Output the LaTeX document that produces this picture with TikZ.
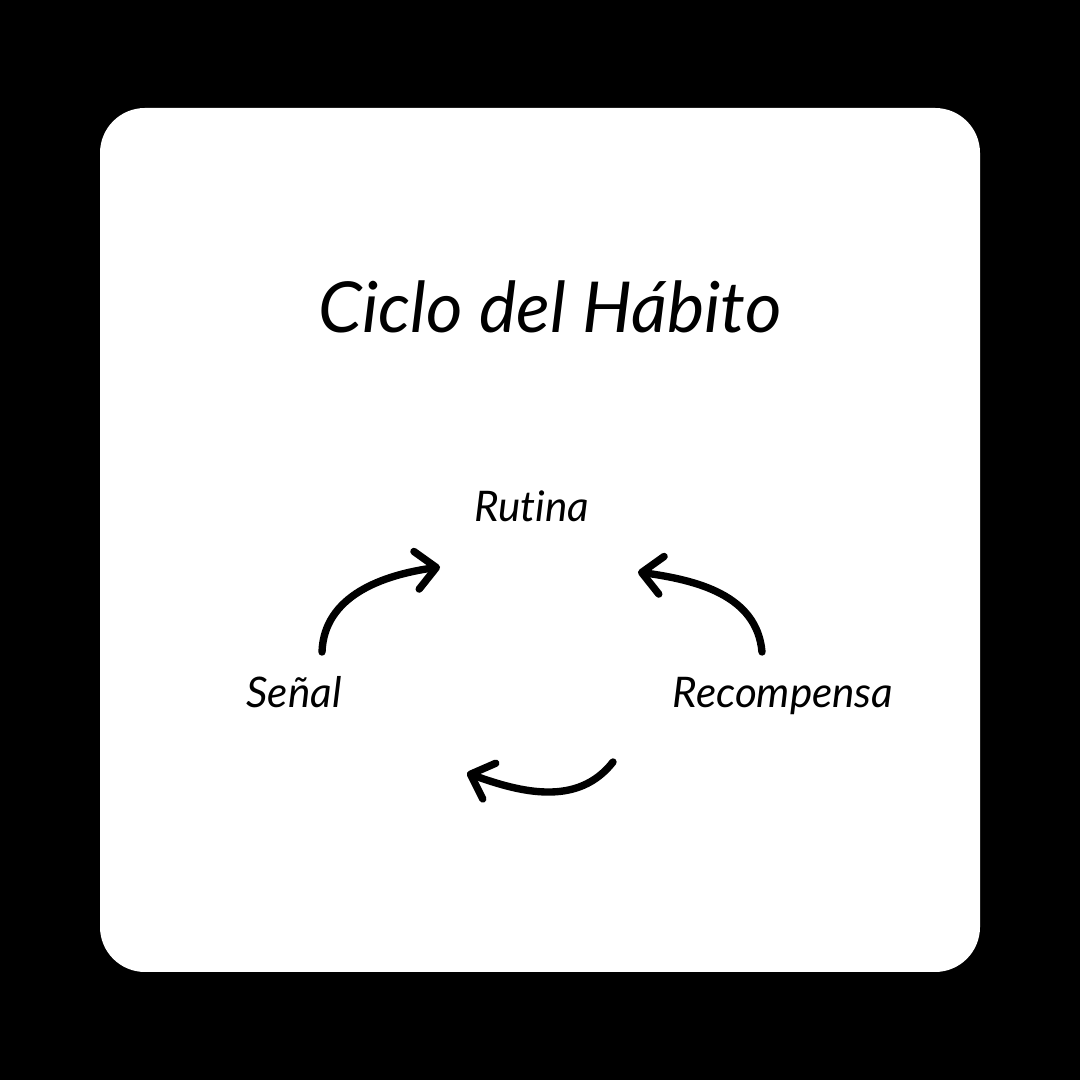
\documentclass[tikz,border=0pt]{standalone}
\usepackage{fontspec}
\setmainfont[Ligatures=NoCommon]{Lato}
\usetikzlibrary{calc,positioning,arrows.meta}

\tikzset{
	stage/.style={font=\itshape\fontsize{12}{14}\selectfont, anchor=base, inner sep=0pt},
	arc arrow/.style={line width=2.1pt, line cap=round, -{Straight Barb[length=2mm,width=3.8mm,line cap=round,line join=round]}},
}

\begin{document}
\begin{tikzpicture}
		\useasboundingbox (0,0) rectangle (10.8,10.8);
		\fill[black] (0,0) rectangle (10.8,10.8);
		\fill[white, rounded corners=0.45cm] (1.0,1.08) rectangle (9.8,9.72);
		
		\node[stage, font=\itshape\fontsize{20}{24}\selectfont] (title) at (5.50,7.47) {Ciclo del Hábito};
		
		\node[stage] (rutina) at (5.32,5.58) {Rutina};
		\node[stage] (senal) at (2.94,3.72) {Señal};
		\node[stage] (recompensa) at (7.83,3.72) {Recompensa};
		
		% puntos de los arcos
		\coordinate (a1) at (3.22,4.28);
		\coordinate (b1) at (4.40,5.13);
		\coordinate (a2) at (7.62,4.28);
		\coordinate (b2) at (6.38,5.08);
		\coordinate (a3) at (6.13,3.18);
		\coordinate (b3) at (4.67,3.07);
		
		\draw[arc arrow] (a1) to[out=88, in=188] (b1);
		\draw[arc arrow] (a2) to[out=95, in=-8] (b2);
		\draw[arc arrow] (a3) to[out=232, in=-20] (b3);
	\end{tikzpicture}
\end{document}
